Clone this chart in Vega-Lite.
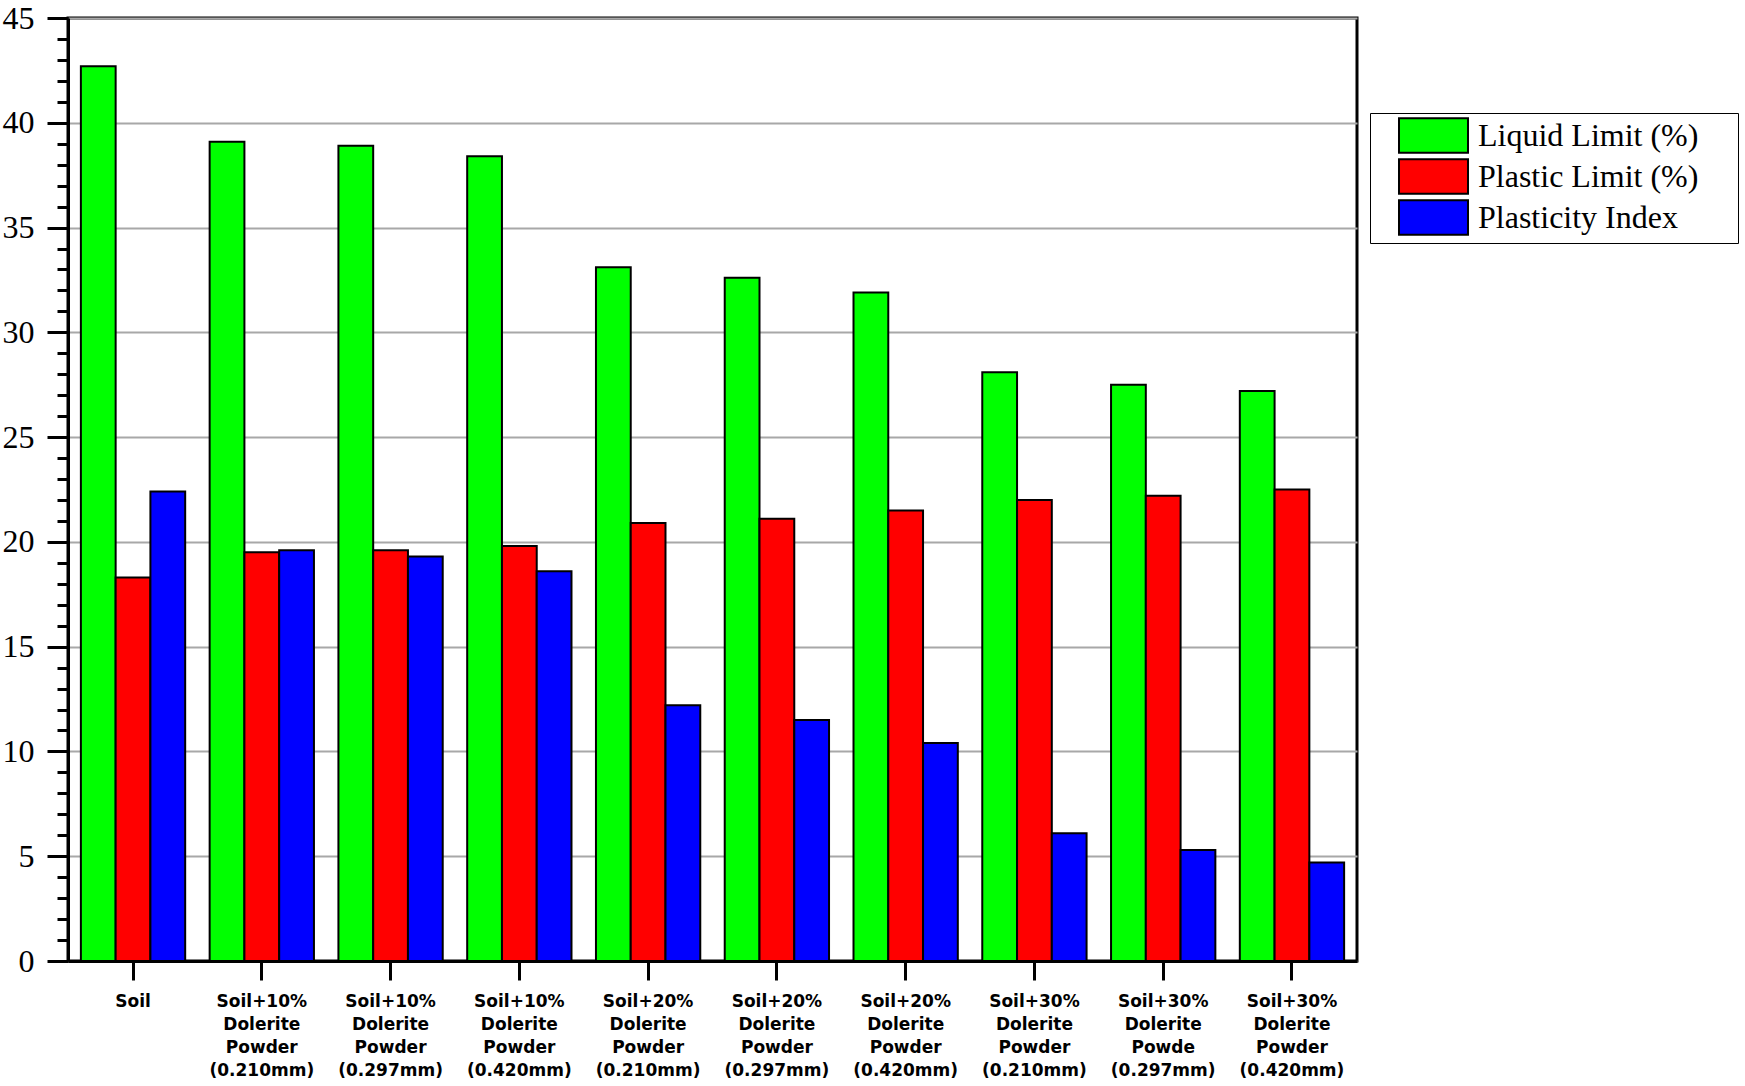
{
  "$schema": "https://vega.github.io/schema/vega-lite/v6.json",
  "width": 1289,
  "height": 943,
  "autosize": {"type": "none"},
  "padding": {"left": 68, "top": 18, "right": 388, "bottom": 125},
  "background": "white",
  "config": {
    "view": {"stroke": "black", "strokeWidth": 3}
  },
  "data": {
    "values": [
      {"sample": "Soil", "series": "Liquid Limit (%)", "value": 42.7},
      {"sample": "Soil", "series": "Plastic Limit (%)", "value": 18.3},
      {"sample": "Soil", "series": "Plasticity Index", "value": 22.4},
      {"sample": "Soil+10%|Dolerite|Powder|(0.210mm)", "series": "Liquid Limit (%)", "value": 39.1},
      {"sample": "Soil+10%|Dolerite|Powder|(0.210mm)", "series": "Plastic Limit (%)", "value": 19.5},
      {"sample": "Soil+10%|Dolerite|Powder|(0.210mm)", "series": "Plasticity Index", "value": 19.6},
      {"sample": "Soil+10%| Dolerite|Powder|(0.297mm)", "series": "Liquid Limit (%)", "value": 38.9},
      {"sample": "Soil+10%| Dolerite|Powder|(0.297mm)", "series": "Plastic Limit (%)", "value": 19.6},
      {"sample": "Soil+10%| Dolerite|Powder|(0.297mm)", "series": "Plasticity Index", "value": 19.3},
      {"sample": "Soil+10%| Dolerite|Powder|(0.420mm)", "series": "Liquid Limit (%)", "value": 38.4},
      {"sample": "Soil+10%| Dolerite|Powder|(0.420mm)", "series": "Plastic Limit (%)", "value": 19.8},
      {"sample": "Soil+10%| Dolerite|Powder|(0.420mm)", "series": "Plasticity Index", "value": 18.6},
      {"sample": "Soil+20%| Dolerite|Powder|(0.210mm)", "series": "Liquid Limit (%)", "value": 33.1},
      {"sample": "Soil+20%| Dolerite|Powder|(0.210mm)", "series": "Plastic Limit (%)", "value": 20.9},
      {"sample": "Soil+20%| Dolerite|Powder|(0.210mm)", "series": "Plasticity Index", "value": 12.2},
      {"sample": "Soil+20%| Dolerite|Powder|(0.297mm)", "series": "Liquid Limit (%)", "value": 32.6},
      {"sample": "Soil+20%| Dolerite|Powder|(0.297mm)", "series": "Plastic Limit (%)", "value": 21.1},
      {"sample": "Soil+20%| Dolerite|Powder|(0.297mm)", "series": "Plasticity Index", "value": 11.5},
      {"sample": "Soil+20%| Dolerite|Powder|(0.420mm)", "series": "Liquid Limit (%)", "value": 31.9},
      {"sample": "Soil+20%| Dolerite|Powder|(0.420mm)", "series": "Plastic Limit (%)", "value": 21.5},
      {"sample": "Soil+20%| Dolerite|Powder|(0.420mm)", "series": "Plasticity Index", "value": 10.4},
      {"sample": "Soil+30%| Dolerite|Powder|(0.210mm)", "series": "Liquid Limit (%)", "value": 28.1},
      {"sample": "Soil+30%| Dolerite|Powder|(0.210mm)", "series": "Plastic Limit (%)", "value": 22.0},
      {"sample": "Soil+30%| Dolerite|Powder|(0.210mm)", "series": "Plasticity Index", "value": 6.1},
      {"sample": "Soil+30%|Dolerite|Powde|(0.297mm)", "series": "Liquid Limit (%)", "value": 27.5},
      {"sample": "Soil+30%|Dolerite|Powde|(0.297mm)", "series": "Plastic Limit (%)", "value": 22.2},
      {"sample": "Soil+30%|Dolerite|Powde|(0.297mm)", "series": "Plasticity Index", "value": 5.3},
      {"sample": "Soil+30%| Dolerite|Powder|(0.420mm)", "series": "Liquid Limit (%)", "value": 27.2},
      {"sample": "Soil+30%| Dolerite|Powder|(0.420mm)", "series": "Plastic Limit (%)", "value": 22.5},
      {"sample": "Soil+30%| Dolerite|Powder|(0.420mm)", "series": "Plasticity Index", "value": 4.7}
    ]
  },
  "mark": {"type": "bar", "stroke": "black", "strokeWidth": 2},
  "encoding": {
    "x": {
      "field": "sample",
      "type": "nominal",
      "sort": null,
      "scale": {"paddingInner": 0.19, "paddingOuter": 0.1},
      "axis": {
        "title": null,
        "labelAngle": 0,
        "labelExpr": "split(datum.label, '|')",
        "labelFont": "DejaVu Sans",
        "labelFontWeight": "bold",
        "labelFontSize": 17,
        "labelLineHeight": 23,
        "labelPadding": 13,
        "labelColor": "black",
        "labelAlign": "center",
        "labelLimit": 0,
        "tickSize": 19,
        "tickWidth": 3,
        "tickColor": "black",
        "domainColor": "black",
        "domainWidth": 3,
        "grid": false
      }
    },
    "xOffset": {
      "field": "series",
      "type": "nominal",
      "sort": ["Liquid Limit (%)", "Plastic Limit (%)", "Plasticity Index"]
    },
    "y": {
      "field": "value",
      "type": "quantitative",
      "scale": {"domain": [0, 45], "nice": false},
      "axis": {
        "title": null,
        "values": [0,1,2,3,4,5,6,7,8,9,10,11,12,13,14,15,16,17,18,19,20,21,22,23,24,25,26,27,28,29,30,31,32,33,34,35,36,37,38,39,40,41,42,43,44,45],
        "labelExpr": "datum.value % 5 === 0 ? datum.label : ''",
        "labelFont": "Liberation Serif",
        "labelFontSize": 32,
        "labelColor": "black",
        "labelPadding": 13,
        "labelOverlap": false,
        "labelFlush": false,
        "tickColor": "black",
        "tickWidth": 3,
        "tickSize": {"condition": {"test": "datum.value % 5 === 0", "value": 21}, "value": 11},
        "domainColor": "black",
        "domainWidth": 3,
        "grid": true,
        "gridColor": "#a8a8a8",
        "gridWidth": 2,
        "gridOpacity": {"condition": {"test": "datum.value % 5 === 0", "value": 1}, "value": 0}
      }
    },
    "color": {
      "field": "series",
      "type": "nominal",
      "scale": {
        "domain": ["Liquid Limit (%)", "Plastic Limit (%)", "Plasticity Index"],
        "range": ["#00ff00", "#ff0000", "#0000ff"]
      },
      "legend": {
        "title": " ",
        "titleOrient": "right",
        "titlePadding": 36,
        "titleFontSize": 10,
        "orient": "none",
        "legendX": 1302,
        "legendY": 95,
        "strokeColor": "black",
        "padding": 4,
        "rowPadding": -2,
        "symbolType": "M-2,-1H2V1H-2Z",
        "symbolSize": 1190,
        "symbolStrokeColor": "black",
        "symbolStrokeWidth": 2,
        "symbolOpacity": 1,
        "symbolOffset": 41,
        "labelOffset": 26,
        "labelFont": "Liberation Serif",
        "labelFontSize": 32,
        "labelColor": "black",
        "labelLimit": 0
      }
    }
  }
}
